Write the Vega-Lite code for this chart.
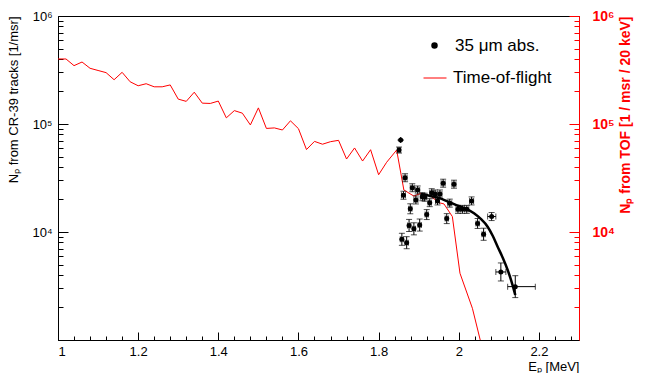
{
  "$schema": "https://vega.github.io/schema/vega-lite/v6.json",
  "width": 521,
  "height": 324,
  "autosize": {"type": "none"},
  "padding": {"left": 58, "top": 16, "right": 70, "bottom": 33},
  "background": "white",
  "config": {
    "font": "Liberation Sans",
    "view": {"stroke": "black", "strokeWidth": 1},
    "axis": {"grid": false, "labelFont": "Liberation Sans", "titleFont": "Liberation Sans", "titleFontWeight": "normal"},
    "legend": {"padding": 0, "labelFont": "Liberation Sans", "labelFontSize": 17, "labelColor": "black"}
  },
  "datasets": {
    "tof": [
      {"E": 1.0, "N": 400000}, {"E": 1.02, "N": 400000}, {"E": 1.04, "N": 347000}, {"E": 1.06, "N": 375000},
      {"E": 1.08, "N": 328000}, {"E": 1.10, "N": 313000}, {"E": 1.12, "N": 299000}, {"E": 1.14, "N": 257000},
      {"E": 1.16, "N": 301000}, {"E": 1.18, "N": 246000}, {"E": 1.20, "N": 226000}, {"E": 1.22, "N": 236000},
      {"E": 1.24, "N": 221000}, {"E": 1.26, "N": 221000}, {"E": 1.28, "N": 230000}, {"E": 1.30, "N": 170000},
      {"E": 1.32, "N": 162000}, {"E": 1.34, "N": 197000}, {"E": 1.36, "N": 156000}, {"E": 1.38, "N": 155000},
      {"E": 1.40, "N": 163000}, {"E": 1.42, "N": 114000}, {"E": 1.44, "N": 133000}, {"E": 1.46, "N": 126000},
      {"E": 1.48, "N": 98000}, {"E": 1.50, "N": 141000}, {"E": 1.52, "N": 91000}, {"E": 1.54, "N": 92000},
      {"E": 1.56, "N": 88000}, {"E": 1.58, "N": 107000}, {"E": 1.60, "N": 90500}, {"E": 1.62, "N": 58000},
      {"E": 1.64, "N": 69000}, {"E": 1.66, "N": 65000}, {"E": 1.68, "N": 68600}, {"E": 1.70, "N": 70600},
      {"E": 1.72, "N": 47400}, {"E": 1.74, "N": 60000}, {"E": 1.76, "N": 45400}, {"E": 1.78, "N": 57800},
      {"E": 1.80, "N": 33900}, {"E": 1.82, "N": 44200}, {"E": 1.845, "N": 57400}, {"E": 1.863, "N": 24500},
      {"E": 1.888, "N": 21500}, {"E": 1.905, "N": 22800}, {"E": 1.93, "N": 21500}, {"E": 1.95, "N": 18700},
      {"E": 1.963, "N": 18200}, {"E": 1.984, "N": 13900}, {"E": 2.003, "N": 4150}, {"E": 2.034, "N": 1966},
      {"E": 2.06, "N": 800}
    ],
    "pts": [
      {"E": 1.851, "N": 57400, "lo": 53850, "hi": 61190, "xlo": 1.847, "xhi": 1.855},
      {"E": 1.855, "N": 71000, "lo": 71000, "hi": 71000, "xlo": 1.855, "xhi": 1.855},
      {"E": 1.866, "N": 31800, "lo": 29200, "hi": 34630, "xlo": 1.861, "xhi": 1.871},
      {"E": 1.862, "N": 21900, "lo": 20110, "hi": 23850, "xlo": 1.857, "xhi": 1.867},
      {"E": 1.884, "N": 25700, "lo": 23600, "hi": 27990, "xlo": 1.879, "xhi": 1.889},
      {"E": 1.8975, "N": 24500, "lo": 22500, "hi": 26680, "xlo": 1.8925, "xhi": 1.9025},
      {"E": 1.893, "N": 19800, "lo": 18180, "hi": 21560, "xlo": 1.888, "xhi": 1.898},
      {"E": 1.879, "N": 16400, "lo": 14750, "hi": 18240, "xlo": 1.875, "xhi": 1.883},
      {"E": 1.876, "N": 11500, "lo": 10110, "hi": 13080, "xlo": 1.872, "xhi": 1.880},
      {"E": 1.888, "N": 10700, "lo": 9410, "hi": 12170, "xlo": 1.884, "xhi": 1.892},
      {"E": 1.9025, "N": 11600, "lo": 10200, "hi": 13190, "xlo": 1.8985, "xhi": 1.9065},
      {"E": 1.858, "N": 8560, "lo": 7530, "hi": 9730, "xlo": 1.854, "xhi": 1.862},
      {"E": 1.87, "N": 7960, "lo": 7000, "hi": 9050, "xlo": 1.866, "xhi": 1.874},
      {"E": 1.909, "N": 21200, "lo": 19470, "hi": 23090, "xlo": 1.904, "xhi": 1.914},
      {"E": 1.915, "N": 21000, "lo": 19280, "hi": 22870, "xlo": 1.910, "xhi": 1.920},
      {"E": 1.92, "N": 14500, "lo": 13040, "hi": 16120, "xlo": 1.916, "xhi": 1.924},
      {"E": 1.9275, "N": 18700, "lo": 17170, "hi": 20360, "xlo": 1.9235, "xhi": 1.9315},
      {"E": 1.9325, "N": 23100, "lo": 21210, "hi": 25160, "xlo": 1.9275, "xhi": 1.9375},
      {"E": 1.941, "N": 22500, "lo": 20660, "hi": 24500, "xlo": 1.936, "xhi": 1.946},
      {"E": 1.947, "N": 19400, "lo": 17810, "hi": 21130, "xlo": 1.942, "xhi": 1.952},
      {"E": 1.953, "N": 22500, "lo": 20660, "hi": 24500, "xlo": 1.948, "xhi": 1.958},
      {"E": 1.961, "N": 28300, "lo": 25990, "hi": 30820, "xlo": 1.956, "xhi": 1.966},
      {"E": 1.97, "N": 13300, "lo": 11960, "hi": 14790, "xlo": 1.966, "xhi": 1.974},
      {"E": 1.9775, "N": 18500, "lo": 16990, "hi": 20150, "xlo": 1.9725, "xhi": 1.9825},
      {"E": 1.988, "N": 27700, "lo": 25440, "hi": 30170, "xlo": 1.983, "xhi": 1.993},
      {"E": 1.998, "N": 16200, "lo": 14880, "hi": 17640, "xlo": 1.993, "xhi": 2.003},
      {"E": 2.009, "N": 16200, "lo": 14880, "hi": 17640, "xlo": 2.004, "xhi": 2.014},
      {"E": 2.02, "N": 16200, "lo": 14880, "hi": 17640, "xlo": 2.015, "xhi": 2.025},
      {"E": 2.032, "N": 19400, "lo": 17810, "hi": 21130, "xlo": 2.027, "xhi": 2.037},
      {"E": 2.047, "N": 12000, "lo": 10790, "hi": 13340, "xlo": 2.043, "xhi": 2.051},
      {"E": 2.062, "N": 9530, "lo": 8380, "hi": 10840, "xlo": 2.058, "xhi": 2.066},
      {"E": 2.082, "N": 13900, "lo": 12760, "hi": 15140, "xlo": 2.072, "xhi": 2.0925},
      {"E": 2.105, "N": 4265, "lo": 3520, "hi": 5170, "xlo": 2.0925, "xhi": 2.1175},
      {"E": 2.141, "N": 3120, "lo": 2470, "hi": 3940, "xlo": 2.122, "xhi": 2.191}
    ],
    "fit": [
      {"E": 1.905, "N": 22500}, {"E": 1.93, "N": 21500}, {"E": 1.95, "N": 20700}, {"E": 1.975, "N": 19000},
      {"E": 2.0, "N": 17400}, {"E": 2.02, "N": 16300}, {"E": 2.038, "N": 14900}, {"E": 2.055, "N": 13200},
      {"E": 2.072, "N": 11200}, {"E": 2.085, "N": 9180}, {"E": 2.097, "N": 7310}, {"E": 2.11, "N": 5740},
      {"E": 2.122, "N": 4450}, {"E": 2.132, "N": 3440}, {"E": 2.141, "N": 2610}
    ]
  },
  "resolve": {"scale": {"x": "independent", "y": "independent"}},
  "layer": [
    {
      "data": {"name": "tof"},
      "mark": {"type": "line", "color": "red", "strokeWidth": 1, "clip": true},
      "encoding": {
        "x": {"field": "E", "type": "quantitative", "scale": {"domain": [1, 2.3], "zero": false, "nice": false},
          "axis": {"orient": "bottom", "values": [1, 1.2, 1.4, 1.6, 1.8, 2, 2.2], "format": "~g", "tickSize": -8, "tickColor": "black", "domainColor": "black", "labelColor": "black", "labelFontSize": 13, "labelPadding": 13, "title": "Eₚ [MeV]", "titleColor": "black", "titleFontSize": 13, "titleAnchor": "end", "titlePadding": 2}},
        "y": {"field": "N", "type": "quantitative", "scale": {"type": "log", "domain": [1000, 1000000], "nice": false},
          "axis": {"orient": "right", "values": [10000, 100000, 1000000], "labelExpr": "datum.value > 500000 ? '10⁶' : datum.value > 50000 ? '10⁵' : '10⁴'", "tickSize": -10, "tickColor": "red", "domainColor": "red", "labelColor": "red", "labelFontWeight": "bold", "labelFontSize": 14, "labelPadding": 23, "title": "Nₚ from TOF [1 / msr / 20 keV]", "titleColor": "red", "titleFontWeight": "bold", "titleFontSize": 14, "titleAngle": 270, "titleAnchor": "end", "titlePadding": 18}},
        "stroke": {"datum": "Time-of-flight", "scale": {"range": ["red"]},
          "legend": {"title": null, "orient": "none", "legendX": 365, "legendY": 50, "symbolType": "stroke", "symbolSize": 529, "symbolStrokeWidth": 1, "labelOffset": 6}}
      }
    },
    {
      "data": {"name": "fit"},
      "mark": {"type": "line", "color": "black", "strokeWidth": 2.5, "interpolate": "monotone"},
      "encoding": {
        "x": {"field": "E", "type": "quantitative", "scale": {"domain": [1, 2.3], "zero": false, "nice": false},
          "axis": {"orient": "bottom", "values": [1.04, 1.08, 1.12, 1.16, 1.24, 1.28, 1.32, 1.36, 1.44, 1.48, 1.52, 1.56, 1.64, 1.68, 1.72, 1.76, 1.84, 1.88, 1.92, 1.96, 2.04, 2.08, 2.12, 2.16, 2.24, 2.28], "labels": false, "domain": false, "tickSize": -4, "tickColor": "black", "title": null}},
        "y": {"field": "N", "type": "quantitative", "scale": {"type": "log", "domain": [1000, 1000000], "nice": false},
          "axis": {"orient": "left", "values": [10000, 100000, 1000000], "labelExpr": "datum.value > 500000 ? '10⁶' : datum.value > 50000 ? '10⁵' : '10⁴'", "tickSize": -10, "tickColor": "black", "domainColor": "black", "labelColor": "black", "labelFontSize": 13, "labelPadding": 16, "title": "Nₚ from CR-39 tracks [1/msr]", "titleColor": "black", "titleFontSize": 13, "titleAngle": 270, "titleAnchor": "end", "titlePadding": 11}}
      }
    },
    {
      "data": {"name": "pts"},
      "mark": {"type": "errorbar", "color": "black", "thickness": 1, "ticks": {"size": 6, "color": "black"}},
      "encoding": {
        "x": {"field": "E", "type": "quantitative", "scale": {"domain": [1, 2.3], "zero": false, "nice": false}, "axis": null},
        "y": {"field": "lo", "type": "quantitative", "scale": {"type": "log", "domain": [1000, 1000000], "nice": false},
          "axis": {"orient": "right", "values": [2000, 3000, 4000, 5000, 6000, 7000, 8000, 9000, 20000, 30000, 40000, 50000, 60000, 70000, 80000, 90000, 200000, 300000, 400000, 500000, 600000, 700000, 800000, 900000], "labels": false, "domain": false, "tickSize": -5, "tickColor": "red", "title": null}},
        "y2": {"field": "hi"}
      }
    },
    {
      "data": {"name": "pts"},
      "mark": {"type": "errorbar", "color": "black", "thickness": 1, "ticks": {"size": 6, "color": "black"}},
      "encoding": {
        "x": {"field": "xlo", "type": "quantitative", "scale": {"domain": [1, 2.3], "zero": false, "nice": false}, "axis": null},
        "x2": {"field": "xhi"},
        "y": {"field": "N", "type": "quantitative", "scale": {"type": "log", "domain": [1000, 1000000], "nice": false},
          "axis": {"orient": "left", "values": [2000, 3000, 4000, 5000, 6000, 7000, 8000, 9000, 20000, 30000, 40000, 50000, 60000, 70000, 80000, 90000, 200000, 300000, 400000, 500000, 600000, 700000, 800000, 900000], "labels": false, "domain": false, "tickSize": -5, "tickColor": "black", "title": null}}
      }
    },
    {
      "data": {"name": "pts"},
      "mark": {"type": "point", "filled": true, "size": 25, "opacity": 1},
      "encoding": {
        "x": {"field": "E", "type": "quantitative", "scale": {"domain": [1, 2.3], "zero": false, "nice": false}, "axis": null},
        "y": {"field": "N", "type": "quantitative", "scale": {"type": "log", "domain": [1000, 1000000], "nice": false}, "axis": null},
        "color": {"datum": "35 μm abs.", "scale": {"range": ["black"]},
          "legend": {"title": null, "orient": "none", "legendX": 368, "legendY": 21, "symbolType": "circle", "symbolSize": 25, "symbolFillColor": "black", "symbolStrokeColor": "black", "labelOffset": 12}}
      }
    }
  ]
}
